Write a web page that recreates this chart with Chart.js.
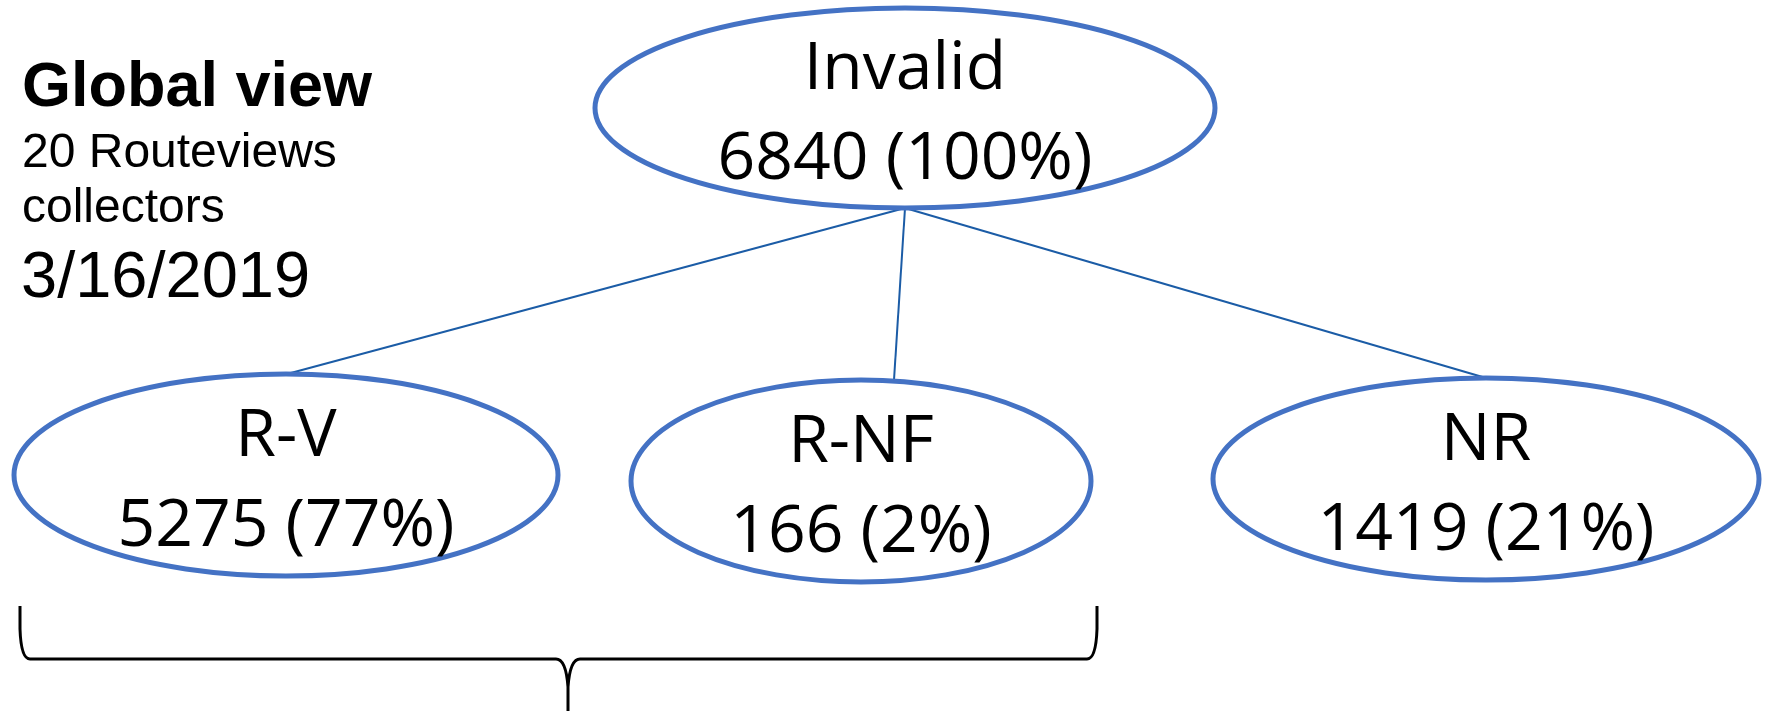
<!DOCTYPE html>
<html>
<head>
<meta charset="utf-8">
<script src="https://cdn.jsdelivr.net/npm/chart.js@4/dist/chart.umd.min.js"></script>
<style>
  html, body { margin: 0; padding: 0; background: #fff; }
  #wrap { width: 1766px; height: 711px; }
</style>
</head>
<body>
<div id="wrap"><canvas id="tree" width="1766" height="711"></canvas></div>
<script>
// ---- data -------------------------------------------------------------
const nodeNames    = ['Invalid', 'R-V', 'R-NF', 'NR'];
const nodeCounts   = [6840, 5275, 166, 1419];
const nodePercents = [100, 77, 2, 21];
const nodeParents  = [null, 0, 0, 0];

const sideTitle = 'Global view';
const sideLines = ['20 Routeviews', 'collectors'];
const sideDate  = '3/16/2019';

// ---- layout (chart units == canvas px) --------------------------------
const W = 1766, H = 711;
const nodeLayout = [
    { cx: 905,  cy: 108, rx: 310, ry: 100, anchorX: 905 },
    { cx: 286,  cy: 475, rx: 272, ry: 101, anchorX: 287 },
    { cx: 861,  cy: 481, rx: 230, ry: 101, anchorX: 894 },
    { cx: 1486, cy: 479, rx: 273, ry: 101, anchorX: 1486 }
];
const brace = { x0: 20, x1: 1097, top: 606, y: 659, tipX: 568, bottom: 711 };

const ELLIPSE_BLUE = '#4472c4';
const LINK_BLUE = '#1b5ca6';
const NODE_FONT = '66px "Open Sans", sans-serif';

// connector datasets: parent bottom -> child top
const linkSets = [];
nodeParents.forEach((p, i) => {
    if (p === null) return;
    const a = nodeLayout[p], b = nodeLayout[i];
    linkSets.push({
        type: 'line',
        data: [
            { x: a.anchorX, y: a.cy + a.ry },
            { x: b.anchorX, y: b.cy - b.ry }
        ],
        showLine: true,
        borderColor: LINK_BLUE,
        borderWidth: 2,
        pointRadius: 0,
        fill: false
    });
});

const treePlugin = {
    id: 'treeDraw',
    afterDatasetsDraw(chart) {
        const { ctx, scales: { x, y } } = chart;
        const px = v => x.getPixelForValue(v);
        const py = v => y.getPixelForValue(v);

        // ellipses + labels
        nodeLayout.forEach((n, i) => {
            const cx = px(n.cx), cy = py(n.cy);
            const rx = Math.abs(px(n.cx + n.rx) - cx);
            const ry = Math.abs(py(n.cy + n.ry) - cy);
            ctx.save();
            ctx.beginPath();
            ctx.ellipse(cx, cy, rx, ry, 0, 0, Math.PI * 2);
            ctx.lineWidth = 5;
            ctx.strokeStyle = ELLIPSE_BLUE;
            ctx.stroke();

            ctx.fillStyle = '#000';
            ctx.font = NODE_FONT;
            ctx.textAlign = 'center';
            ctx.textBaseline = 'alphabetic';
            ctx.fillText(nodeNames[i], cx, py(n.cy - 19));
            ctx.fillText(nodeCounts[i] + ' (' + nodePercents[i] + '%)', cx, py(n.cy + 71));
            ctx.restore();
        });

        // side note
        ctx.save();
        ctx.fillStyle = '#000';
        ctx.textAlign = 'left';
        ctx.textBaseline = 'alphabetic';
        ctx.font = 'bold 63px "Liberation Sans", Arial, sans-serif';
        ctx.fillText(sideTitle, px(22), py(106));
        ctx.font = '48px "Liberation Sans", Arial, sans-serif';
        ctx.fillText(sideLines[0], px(22), py(167));
        ctx.fillText(sideLines[1], px(22), py(222));
        ctx.font = '65px "Liberation Sans", Arial, sans-serif';
        ctx.fillText(sideDate, px(21), py(297));
        ctx.restore();

        // curly brace under the routed groups
        const b = brace;
        ctx.save();
        ctx.strokeStyle = '#000';
        ctx.lineWidth = 3;
        ctx.lineJoin = 'round';
        ctx.beginPath();
        ctx.moveTo(px(b.x0), py(b.top));
        ctx.lineTo(px(b.x0), py(b.y - 30));
        ctx.quadraticCurveTo(px(b.x0 + 1), py(b.y), px(b.x0 + 10), py(b.y));
        ctx.lineTo(px(b.tipX - 12), py(b.y));
        ctx.quadraticCurveTo(px(b.tipX - 2), py(b.y), px(b.tipX), py(b.y + 28));
        ctx.lineTo(px(b.tipX), py(b.bottom));
        ctx.moveTo(px(b.tipX), py(b.y + 28));
        ctx.quadraticCurveTo(px(b.tipX + 2), py(b.y), px(b.tipX + 12), py(b.y));
        ctx.lineTo(px(b.x1 - 10), py(b.y));
        ctx.quadraticCurveTo(px(b.x1 - 1), py(b.y), px(b.x1), py(b.y - 30));
        ctx.lineTo(px(b.x1), py(b.top));
        ctx.stroke();
        ctx.restore();
    }
};

new Chart(document.getElementById('tree'), {
    type: 'scatter',
    data: { datasets: linkSets },
    options: {
        responsive: false,
        animation: false,
        devicePixelRatio: 1,
        layout: { padding: 0, autoPadding: false },
        plugins: { legend: { display: false }, tooltip: { enabled: false } },
        scales: {
            x: { type: 'linear', min: 0, max: W, display: false },
            y: { type: 'linear', min: 0, max: H, reverse: true, display: false }
        }
    },
    plugins: [treePlugin]
});
</script>
</body>
</html>
